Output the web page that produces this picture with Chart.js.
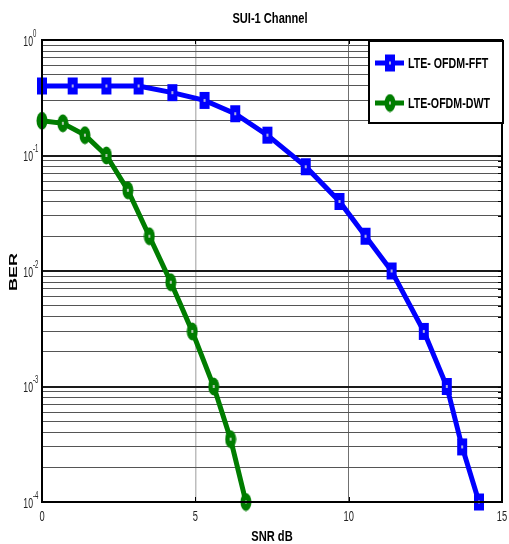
<!DOCTYPE html>
<html>
<head>
<meta charset="UTF-8">
<title>SUI-1 Channel</title>
<script src="https://cdn.jsdelivr.net/npm/chart.js"></script>
<style>
  body { margin: 0; background: #fff; }
</style>
</head>
<body>
<canvas id="berChart" width="509" height="544"></canvas>
<script>
// data
const snrFFT = [0, 1, 2.1, 3.15, 4.25, 5.3, 6.3, 7.35, 8.6, 9.7, 10.55, 11.4, 12.45, 13.2, 13.7, 14.25];
const berFFT = [0.40, 0.40, 0.40, 0.40, 0.35, 0.30, 0.23, 0.15, 0.08, 0.04, 0.02, 0.01, 0.003, 0.001, 0.0003, 0.0001];
const snrDWT = [0, 0.68, 1.4, 2.1, 2.8, 3.5, 4.2, 4.9, 5.6, 6.15, 6.65];
const berDWT = [0.20, 0.19, 0.15, 0.10, 0.05, 0.02, 0.008, 0.003, 0.001, 0.00035, 0.0001];
const seriesNames = ['LTE- OFDM-FFT', 'LTE-OFDM-DWT'];
const xTicks = [0, 5, 10, 15];
const yExponents = [-4, -3, -2, -1, 0];

const BLUE = '#0000ff';
const GREEN = '#007d00';

function makeMarker(kind, color) {
    const c = document.createElement('canvas');
    c.width = 12; c.height = 19;
    const g = c.getContext('2d');
    g.fillStyle = color;
    if (kind === 'rect') {
        g.fillRect(1, 1, 10, 17);
    } else {
        g.beginPath();
        g.ellipse(6, 9.5, 5.5, 9, 0, 0, Math.PI * 2);
        g.fill();
    }
    g.fillStyle = 'rgba(220,220,220,0.8)';
    g.fillRect(5, 8, 2, 3);
    return c;
}
const squareMark = makeMarker('rect', BLUE);
const ovalMark = makeMarker('oval', GREEN);

// minor + major ticks of the log axis
const yTickValues = [];
yExponents.forEach(e => {
    for (let m = 1; m <= 9; m++) {
        if (e === 0 && m > 1) break;
        yTickValues.push(m * Math.pow(10, e));
    }
});

function squeezedText(ctx, text, x, y, font, sx, align, color) {
    ctx.save();
    ctx.translate(x, y);
    ctx.scale(sx, 1);
    ctx.font = font;
    ctx.textAlign = align || 'center';
    ctx.textBaseline = 'middle';
    ctx.fillStyle = color || '#000';
    ctx.fillText(text, 0, 0);
    ctx.restore();
}

const decorations = {
    id: 'decorations',
    afterDraw(chart) {
        const ctx = chart.ctx;
        const a = chart.chartArea;
        const xs = chart.scales.x, ys = chart.scales.y;

        // inner tick marks on the right and top/bottom
        ctx.save();
        ctx.strokeStyle = '#000';
        ctx.lineWidth = 1;
        yTickValues.forEach(v => {
            const y = Math.round(ys.getPixelForValue(v)) + 0.5;
            ctx.beginPath();
            ctx.moveTo(a.right - 4, y); ctx.lineTo(a.right, y);
            ctx.stroke();
        });
        xTicks.forEach(v => {
            const x = Math.round(xs.getPixelForValue(v)) + 0.5;
            ctx.beginPath();
            ctx.moveTo(x, a.top); ctx.lineTo(x, a.top + 4);
            ctx.moveTo(x, a.bottom); ctx.lineTo(x, a.bottom - 5);
            ctx.stroke();
        });
        // frame
        ctx.lineWidth = 2;
        ctx.strokeRect(a.left, a.top, a.right - a.left, a.bottom - a.top);
        ctx.restore();

        // tick labels
        xTicks.forEach(v => {
            squeezedText(ctx, String(v), xs.getPixelForValue(v), a.bottom + 15, '15px "Liberation Sans", Arial', 0.62, 'center', '#222');
        });
        yExponents.forEach(e => {
            const y = ys.getPixelForValue(Math.pow(10, e));
            squeezedText(ctx, '10', a.left - 9, y + 2, '14px "Liberation Sans", Arial', 0.62, 'right', '#222');
            squeezedText(ctx, String(e), a.left - 9, y - 6, '10px "Liberation Sans", Arial', 0.6, 'left', '#222');
        });

        // titles
        squeezedText(ctx, 'SUI-1 Channel', 270, 19, 'bold 15px "Liberation Sans", Arial', 0.74);
        squeezedText(ctx, 'SNR dB', 272, 537, 'bold 15px "Liberation Sans", Arial', 0.74);
        ctx.save();
        ctx.translate(14, 272);
        ctx.rotate(-Math.PI / 2);
        ctx.scale(1, 0.62);
        ctx.font = 'bold 18px "Liberation Sans", Arial';
        ctx.textAlign = 'center';
        ctx.textBaseline = 'middle';
        ctx.fillStyle = '#000';
        ctx.fillText('BER', 0, 0);
        ctx.restore();

        // legend box
        const lx = 369, ly = 41, lw = 134, lh = 82;
        ctx.save();
        ctx.fillStyle = '#fff';
        ctx.fillRect(lx, ly, lw, lh);
        ctx.strokeStyle = '#000';
        ctx.lineWidth = 2;
        ctx.strokeRect(lx, ly, lw, lh);
        const rows = [
            { y: 63, color: BLUE, mark: squareMark, text: seriesNames[0] },
            { y: 103, color: GREEN, mark: ovalMark, text: seriesNames[1] }
        ];
        rows.forEach(r => {
            ctx.strokeStyle = r.color;
            ctx.lineWidth = 5;
            ctx.beginPath();
            ctx.moveTo(375, r.y); ctx.lineTo(404, r.y);
            ctx.stroke();
            ctx.drawImage(r.mark, 390 - 6, r.y - 9.5);
            squeezedText(ctx, r.text, 408, r.y + 1, 'bold 14px "Liberation Sans", Arial', 0.76, 'left');
        });
        ctx.restore();
    }
};

function toPoints(xsArr, ysArr) {
    return xsArr.map((x, i) => ({ x: x, y: ysArr[i] }));
}

new Chart(document.getElementById('berChart'), {
    type: 'line',
    data: {
        datasets: [{
            label: seriesNames[0],
            data: toPoints(snrFFT, berFFT),
            borderColor: BLUE,
            backgroundColor: BLUE,
            borderWidth: 5,
            pointStyle: squareMark,
            pointRadius: 8,
            clip: false,
            tension: 0
        }, {
            label: seriesNames[1],
            data: toPoints(snrDWT, berDWT),
            borderColor: GREEN,
            backgroundColor: GREEN,
            borderWidth: 5,
            pointStyle: ovalMark,
            pointRadius: 8,
            clip: false,
            tension: 0
        }]
    },
    options: {
        responsive: false,
        animation: false,
        devicePixelRatio: 1,
        layout: { autoPadding: false, padding: { left: 42, top: 40, right: 7, bottom: 42 } },
        plugins: {
            legend: { display: false },
            title: { display: false },
            tooltip: { enabled: false }
        },
        scales: {
            x: {
                type: 'linear',
                min: 0,
                max: 15,
                afterBuildTicks: s => { s.ticks = xTicks.map(v => ({ value: v })); },
                ticks: { display: false },
                border: { display: false },
                grid: {
                    drawTicks: false,
                    color: c => c.tick && c.tick.value === 5 ? '#bdbdbd' : (c.tick && c.tick.value === 10 ? '#707070' : 'rgba(0,0,0,0)'),
                    lineWidth: c => c.tick && c.tick.value === 5 ? 1.5 : 1
                }
            },
            y: {
                type: 'logarithmic',
                min: 1e-4,
                max: 1,
                afterBuildTicks: s => { s.ticks = yTickValues.map(v => ({ value: v })); },
                ticks: { display: false, autoSkip: false },
                border: { display: false },
                grid: {
                    drawTicks: false,
                    color: c => {
                        if (!c.tick) return '#666';
                        const lg = Math.log10(c.tick.value);
                        return Math.abs(lg - Math.round(lg)) < 1e-6 ? '#1a1a1a' : '#555';
                    },
                    lineWidth: c => {
                        if (!c.tick) return 1;
                        const lg = Math.log10(c.tick.value);
                        return Math.abs(lg - Math.round(lg)) < 1e-6 ? 2 : 1;
                    }
                }
            }
        }
    },
    plugins: [decorations]
});
</script>
</body>
</html>
